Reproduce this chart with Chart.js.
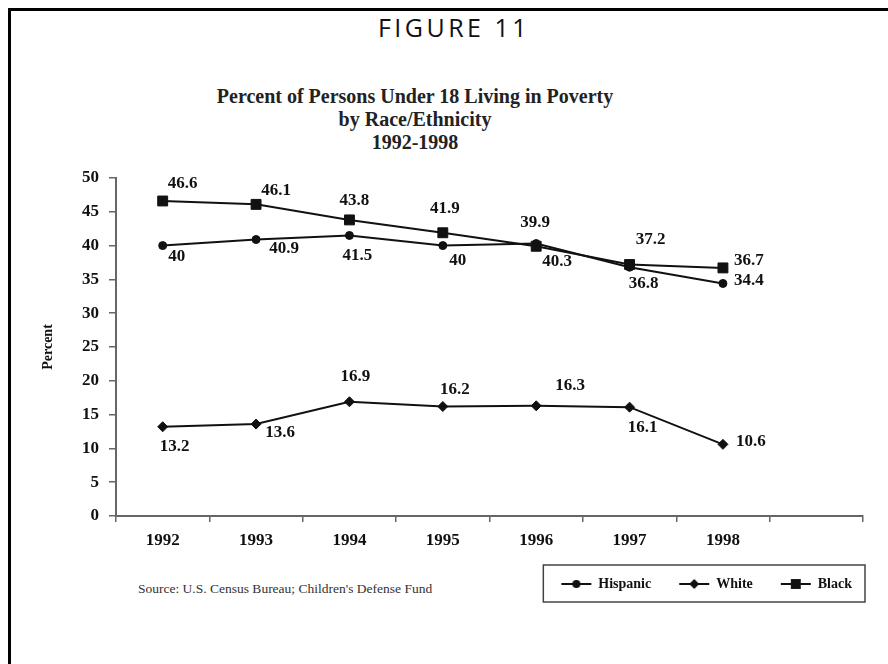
<!DOCTYPE html>
<html><head><meta charset="utf-8">
<script src="https://cdn.jsdelivr.net/npm/chart.js@4"></script>
<style>
html,body{margin:0;padding:0;background:#fff;}
#wrap{position:relative;width:888px;height:664px;overflow:hidden;background:#fff;}
#frame{position:absolute;left:8px;top:8px;width:900px;height:700px;border-left:3px solid #000;border-top:3px solid #000;}
#fig{position:absolute;left:4px;width:900px;top:11px;line-height:32px;text-align:center;font-family:'Open Sans';font-size:25px;letter-spacing:3.5px;color:#111;}
#ttl{position:absolute;left:0;width:830px;top:85px;line-height:23px;text-align:center;font-family:'Liberation Serif';font-weight:bold;font-size:20px;color:#222;}
#src{position:absolute;left:138px;top:581px;font-family:'Liberation Serif';font-size:13.5px;color:#333;white-space:nowrap;}
canvas{position:absolute;left:0;top:0;}
</style></head>
<body><div id="wrap">
<div id="frame"></div>
<div id="fig">FIGURE 11</div>
<div id="ttl">Percent of Persons Under 18 Living in Poverty<br>by Race/Ethnicity<br>1992-1998</div>
<div id="src">Source: U.S. Census Bureau; Children's Defense Fund</div>
<canvas id="c" width="888" height="664"></canvas>
</div>
<script>
const years = ['1992','1993','1994','1995','1996','1997','1998',''];
const hispanic = [40, 40.9, 41.5, 40, 40.3, 36.8, 34.4];
const white = [13.2, 13.6, 16.9, 16.2, 16.3, 16.1, 10.6];
const black = [46.6, 46.1, 43.8, 41.9, 39.9, 37.2, 36.7];
const seriesNames = ['Hispanic', 'White', 'Black'];
const yMin = 0, yMax = 50, yStep = 5;
const yTitle = 'Percent';

// label offsets (px) relative to each point, per series
const labelOffsets = [
  [[14,11],[28,9],[8,20],[15,15],[21,18],[14,16],[26,-3]],
  [[12,20],[24,9],[6,-25],[12,-17],[34,-20],[13,20],[28,-3]],
  [[20,-17],[20,-14],[5,-19],[2,-24],[-1,-24],[21,-25],[26,-7]]
];
const INK = '#111';
const styles = [
  {pointStyle:'circle', pointRadius:4},
  {pointStyle:'rectRot', pointRadius:5},
  {pointStyle:'rect', pointRadius:7}
];

function makeIcon(st){
  const cv = document.createElement('canvas');
  cv.width = 32; cv.height = 14;
  const g = cv.getContext('2d');
  g.strokeStyle = INK; g.fillStyle = INK; g.lineWidth = 2;
  g.beginPath(); g.moveTo(1,7); g.lineTo(31,7); g.stroke();
  const r = st.pointRadius;
  g.beginPath();
  if (st.pointStyle === 'circle') { g.arc(16,7,r,0,Math.PI*2); }
  else if (st.pointStyle === 'rectRot') { g.moveTo(16,7-r); g.lineTo(16+r,7); g.lineTo(16,7+r); g.lineTo(16-r,7); g.closePath(); }
  else { const s = r/Math.SQRT2; g.rect(16-s,7-s,2*s,2*s); }
  g.fill();
  return cv;
}

const datasets = [hispanic, white, black].map((d, i) => ({
  label: seriesNames[i],
  data: d,
  borderColor: INK,
  backgroundColor: INK,
  borderWidth: 2,
  pointStyle: styles[i].pointStyle,
  pointRadius: styles[i].pointRadius,
  pointBackgroundColor: INK,
  pointBorderColor: INK,
  pointBorderWidth: 1,
  tension: 0,
  clip: false
}));

const valueLabels = {
  id: 'valueLabels',
  afterDatasetsDraw(chart) {
    const ctx = chart.ctx;
    ctx.save();
    ctx.font = 'bold 17px "Liberation Serif"';
    ctx.fillStyle = INK;
    ctx.textAlign = 'center';
    ctx.textBaseline = 'middle';
    chart.data.datasets.forEach((ds, i) => {
      const meta = chart.getDatasetMeta(i);
      meta.data.forEach((pt, j) => {
        const off = labelOffsets[i][j];
        ctx.fillText(String(ds.data[j]), pt.x + off[0], pt.y + off[1]);
      });
    });
    ctx.restore();
  }
};

const legendFrame = {
  id: 'legendFrame',
  afterDraw(chart) {
    const lg = chart.legend;
    if (!lg || !lg.legendHitBoxes || !lg.legendHitBoxes.length) return;
    const hb = lg.legendHitBoxes;
    const last = hb[hb.length - 1];
    const cy = hb[0].top + hb[0].height / 2;
    const x0 = hb[0].left - 18, x1 = last.left + last.width + 13;
    const ctx = chart.ctx;
    ctx.save();
    ctx.strokeStyle = '#444';
    ctx.lineWidth = 1.5;
    ctx.strokeRect(x0, cy - 19, x1 - x0, 37);
    ctx.restore();
  }
};

new Chart(document.getElementById('c'), {
  type: 'line',
  data: { labels: years, datasets },
  options: {
    responsive: false,
    animation: false,
    layout: { padding: { top: 178, left: 0, right: 8, bottom: 63 } },
    plugins: {
      tooltip: { enabled: false },
      title: { display: false },
      legend: {
        display: true,
        position: 'bottom',
        align: 'end',
        labels: {
          usePointStyle: true,
          pointStyleWidth: 30,
          padding: 28,
          color: INK,
          font: { family: 'Liberation Serif', size: 14, weight: 'bold' },
          generateLabels(chart) {
            return chart.data.datasets.map((ds, i) => ({
              text: ds.label,
              pointStyle: makeIcon(styles[i]),
              fillStyle: INK, strokeStyle: INK, lineWidth: 0,
              fontColor: INK, hidden: false, datasetIndex: i
            }));
          }
        }
      }
    },
    scales: {
      x: {
        type: 'category',
        offset: true,
        grid: { offset: true, drawOnChartArea: false, drawTicks: true, tickLength: 6, color: '#666', lineWidth: 1.5 },
        border: { display: true, color: '#666', width: 2 },
        ticks: { color: INK, padding: 8, maxRotation: 0, autoSkip: false, font: { family: 'Liberation Serif', size: 17, weight: 'bold' } },
        afterFit(s) { s.height = 33; }
      },
      y: {
        min: yMin, max: yMax,
        position: 'left',
        grid: { drawOnChartArea: false, drawTicks: true, tickLength: 7, color: '#666', lineWidth: 1.5 },
        border: { display: true, color: '#666', width: 2 },
        ticks: { stepSize: yStep, color: INK, padding: 10, font: { family: 'Liberation Serif', size: 17, weight: 'bold' } },
        title: { display: true, text: yTitle, color: INK, padding: { top: 40, bottom: 0 }, font: { family: 'Liberation Serif', size: 14, weight: 'bold' } },
        afterFit(s) { s.width = 116; }
      },
      yR: {
        position: 'right',
        display: true,
        grid: { display: false },
        border: { display: false },
        ticks: { display: false },
        afterFit(s) { s.width = 17; }
      }
    }
  },
  plugins: [valueLabels, legendFrame]
});
</script>
</body></html>
